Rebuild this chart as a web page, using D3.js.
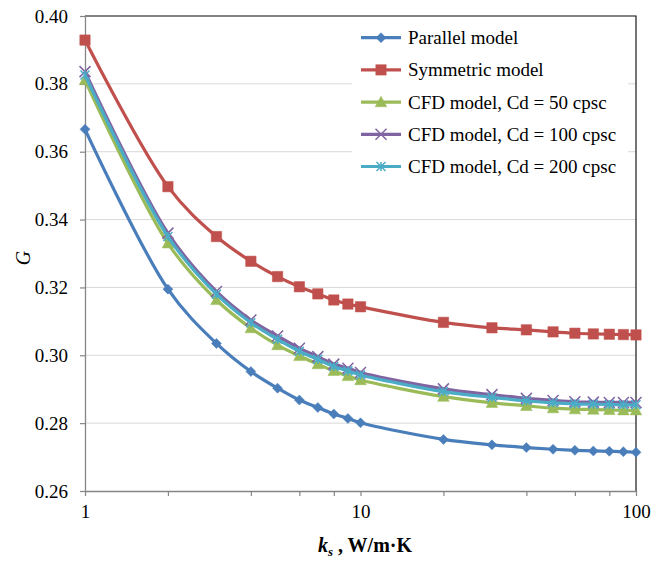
<!DOCTYPE html>
<html>
<head>
<meta charset="utf-8">
<script src="https://cdn.jsdelivr.net/npm/d3@7"></script>
<style>
  body { margin: 0; background: #fff; }
  text { font-family: "Liberation Serif", "Times New Roman", serif; }
</style>
</head>
<body>
<script>
const ks = [1, 2, 3, 4, 5, 6, 7, 8, 9, 10, 20, 30, 40, 50, 60, 70, 80, 90, 100];
const parallel = [0.3666, 0.3195, 0.3035, 0.2952, 0.2903, 0.2868, 0.2846, 0.2827, 0.2814, 0.2801,
    0.2752, 0.2736, 0.2728, 0.2723, 0.2720, 0.2718, 0.2717, 0.2716, 0.2714];
const symmetric = [0.3929, 0.3497, 0.3350, 0.3277, 0.3232, 0.3202, 0.3181, 0.3163, 0.3151, 0.3143,
    0.3097, 0.3081, 0.3075, 0.3069, 0.3065, 0.3063, 0.3062, 0.3061, 0.3060];
const cfd50 = [0.3811, 0.3330, 0.3163, 0.3080, 0.3030, 0.2998, 0.2974, 0.2954, 0.2939, 0.2927,
    0.2878, 0.2860, 0.2851, 0.2844, 0.2841, 0.2840, 0.2839, 0.2838, 0.2838];
const cfd100 = [0.3836, 0.3360, 0.3188, 0.3104, 0.3057, 0.3021, 0.2996, 0.2974, 0.2962, 0.2949,
    0.2901, 0.2884, 0.2873, 0.2867, 0.2863, 0.2862, 0.2861, 0.2861, 0.2861];
const cfd200 = [0.3826, 0.3350, 0.3180, 0.3096, 0.3047, 0.3012, 0.2988, 0.2967, 0.2954, 0.2942,
    0.2893, 0.2876, 0.2866, 0.2860, 0.2857, 0.2856, 0.2855, 0.2854, 0.2854];

const seriesNames = ["Parallel model", "Symmetric model", "CFD model, Cd = 50 cpsc",
    "CFD model, Cd = 100 cpsc", "CFD model, Cd = 200 cpsc"];
const seriesValues = [parallel, symmetric, cfd50, cfd100, cfd200];
const colors = ["#4A7EBB", "#C0504D", "#9BBB59", "#8064A2", "#4BACC6"];
const markers = ["diamond", "square", "triangle", "times", "asterisk"];

const yTicks = [0.26, 0.28, 0.30, 0.32, 0.34, 0.36, 0.38, 0.40];
const xTicks = [1, 2, 4, 6, 8, 10, 20, 40, 60, 80, 100];
const xLabels = [1, 10, 100];

const W = 652, H = 563;
const margin = { top: 16, right: 16, bottom: 72, left: 85 };
const width = W - margin.left - margin.right;
const height = H - margin.top - margin.bottom;

const svg = d3.select("body").append("svg")
    .attr("width", W)
    .attr("height", H);

const g = svg.append("g")
    .attr("transform", "translate(" + margin.left + "," + margin.top + ")");

const x = d3.scaleLog().domain([1, 100]).range([0, width]);
const y = d3.scaleLinear().domain([0.26, 0.40]).range([height, 0]);

// gridlines
g.selectAll(".grid")
    .data(yTicks.slice(1))
    .enter().append("line")
    .attr("x1", 0).attr("x2", width)
    .attr("y1", d => y(d)).attr("y2", d => y(d))
    .attr("stroke", "#d9d9d9")
    .attr("stroke-width", 1);

// plot border top/right
g.append("path")
    .attr("d", "M0," + y(0.40) + "H" + width + "V" + height)
    .attr("fill", "none")
    .attr("stroke", "#1a1a1a")
    .attr("stroke-width", 1.2);

const yAxis = g.append("g")
    .call(d3.axisLeft(y).tickValues(yTicks).tickFormat(d3.format(".2f")).tickSize(5).tickSizeOuter(0).tickPadding(12));

const xAxis = g.append("g")
    .attr("transform", "translate(0," + height + ")")
    .call(d3.axisBottom(x).tickValues(xTicks).tickFormat(d => xLabels.includes(d) ? d : "").tickSize(5).tickSizeOuter(0).tickPadding(9));

[xAxis, yAxis].forEach(a => {
    a.select(".domain").attr("stroke", "#868686").attr("stroke-width", 1.3);
    a.selectAll(".tick line").attr("stroke", "#868686").attr("stroke-width", 1.2);
    a.selectAll("text")
        .style("font-family", "'Liberation Serif', serif")
        .style("font-size", "19px")
        .attr("fill", "#000");
});

// marker shapes
function markerPath(type, s) {
    if (type === "diamond") return "M0," + (-s) + "L" + s + ",0L0," + s + "L" + (-s) + ",0Z";
    if (type === "square") return "M" + (-s) + "," + (-s) + "H" + s + "V" + s + "H" + (-s) + "Z";
    if (type === "triangle") return "M0," + (-s) + "L" + s + "," + (s * 0.8) + "L" + (-s) + "," + (s * 0.8) + "Z";
    if (type === "times") return "M" + (-s) + "," + (-s) + "L" + s + "," + s + "M" + s + "," + (-s) + "L" + (-s) + "," + s;
    return "M" + (-s) + "," + (-s) + "L" + s + "," + s + "M" + s + "," + (-s) + "L" + (-s) + "," + s + "M0," + (-s) + "V" + s;
}
const markerSize = [5, 5.2, 5.8, 5.5, 4.5];

function drawMarker(sel, i) {
    const filled = i < 3;
    sel.attr("d", markerPath(markers[i], markerSize[i]))
        .attr("fill", filled ? colors[i] : "none")
        .attr("stroke", colors[i])
        .attr("stroke-width", filled ? 0.5 : 1.5);
}

const line = d3.line()
    .x(d => x(d[0]))
    .y(d => y(d[1]))
    .curve(d3.curveCatmullRom.alpha(0.5));

seriesValues.forEach((vals, i) => {
    const pts = ks.map((k, j) => [k, vals[j]]);
    const sg = g.append("g");
    sg.append("path")
        .datum(pts)
        .attr("d", line)
        .attr("fill", "none")
        .attr("stroke", colors[i])
        .attr("stroke-width", 3.2);
    sg.selectAll("path.m")
        .data(pts)
        .enter().append("path")
        .attr("class", "m")
        .attr("transform", d => "translate(" + x(d[0]) + "," + y(d[1]) + ")")
        .call(drawMarker, i);
});

// legend
const legend = svg.append("g");
legend.append("rect")
    .attr("x", 352).attr("y", 18)
    .attr("width", 276).attr("height", 170)
    .attr("fill", "#fff");

seriesNames.forEach((name, i) => {
    const ly = 37.7 + i * 32.2;
    legend.append("line")
        .attr("x1", 361).attr("x2", 401)
        .attr("y1", ly).attr("y2", ly)
        .attr("stroke", colors[i])
        .attr("stroke-width", 3.2);
    legend.append("path")
        .attr("transform", "translate(381," + ly + ")")
        .call(drawMarker, i);
    legend.append("text")
        .attr("x", 408)
        .attr("y", ly + 6.5)
        .style("font-size", "19px")
        .text(name);
});

// axis titles
const xt = svg.append("text")
    .attr("x", 365)
    .attr("y", 552)
    .attr("text-anchor", "middle")
    .style("font-size", "20px")
    .style("font-weight", "bold");
xt.append("tspan").style("font-style", "italic").text("k");
xt.append("tspan").style("font-style", "italic").style("font-size", "13px").attr("dy", 4).text("s");
xt.append("tspan").attr("dy", -4).text(" , W/m·K");

svg.append("text")
    .attr("transform", "translate(30,258) rotate(-90)")
    .attr("text-anchor", "middle")
    .style("font-size", "20px")
    .style("font-style", "italic")
    .text("G");
</script>
</body>
</html>
